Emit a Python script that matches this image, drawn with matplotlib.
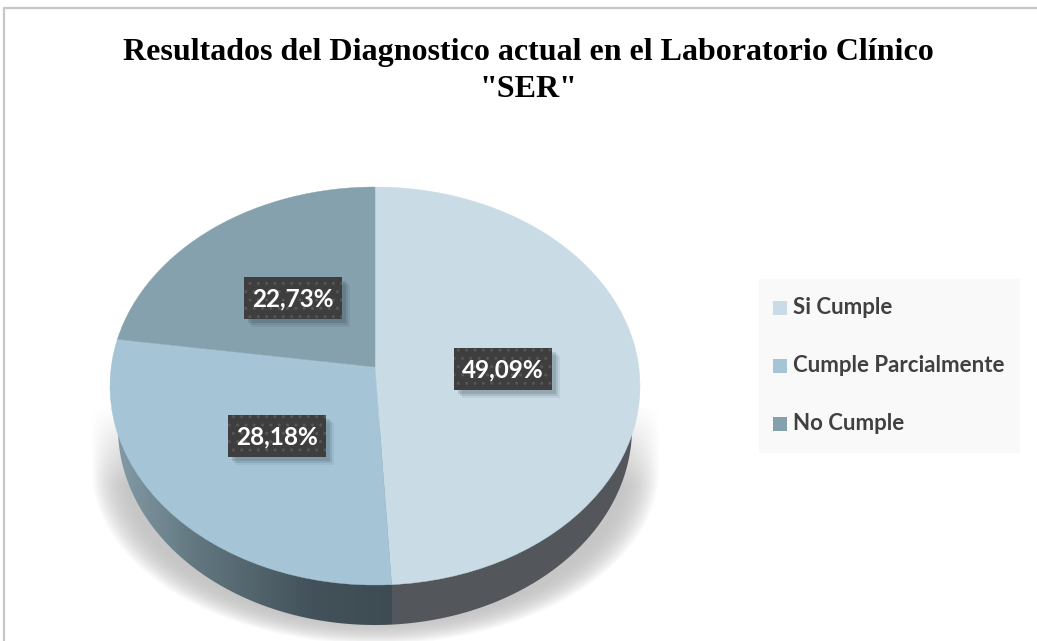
import numpy as np
import matplotlib
matplotlib.use('Agg')
import matplotlib.pyplot as plt
from matplotlib.patches import Rectangle, Polygon

W, H = 1037, 641

categorias = ['Si Cumple', 'Cumple Parcialmente', 'No Cumple']
valores = [49.09, 28.18, 22.73]
etiquetas = ['49,09%', '28,18%', '22,73%']
colores = ['#c9dbe5', '#a5c5d6', '#85a1ad']
titulo = 'Resultados del Diagnostico actual en el Laboratorio Clínico\n"SER"'

# posicion del centro de cada etiqueta, en pixeles de la imagen
pos_etiquetas = [(503, 369), (277, 436), (293, 298)]

# elipse superior del pie en pixeles
x0, x1, y0, y1 = 110, 640, 187, 585
# desplazamiento del centro por la perspectiva (unidades del radio)
persp = 0.0955


def perspectiva(pts):
    # proyectiva que conserva el circulo unidad y sube el centro
    x, y = pts[:, 0], pts[:, 1]
    d = 1 + persp * y
    return np.c_[x * np.sqrt(1 - persp ** 2) / d, (y + persp) / d]


fig = plt.figure(figsize=(W / 100, H / 100), dpi=100, facecolor='white')

# capa de fondo en pixeles: sombra, pared lateral y borde
bg = fig.add_axes([0, 0, 1, 1], zorder=0)
yy, xx = np.mgrid[0:H, 0:W]
dy = np.where(yy > 470, (yy - 470) / 174.0, 0)
dist = np.sqrt(((xx - 375) / 284.0) ** 2 + dy ** 2)
sombra = np.clip((1.0 - dist) / 0.14, 0, 1)
sombra = sombra * (2 - sombra)
sombra = sombra * np.clip((yy - 405) / 80.0, 0, 1)
rgba = np.zeros((H, W, 4))
rgba[..., :3] = 0.78
rgba[..., 3] = sombra
bg.imshow(rgba, extent=(0, W, H, 0), aspect='auto', zorder=1, interpolation='bilinear')

# pared: media elipse inferior, algo mas estrecha que la superior
ang = np.radians(np.linspace(180, 360, 240))
pared = np.c_[375 + 257 * np.cos(ang), 428 - 197 * np.sin(ang)]

# el corte de la pared sale del primer sector
a_corte = np.radians(90 - valores[0] * 3.6)
corte = perspectiva(np.array([[np.cos(a_corte), np.sin(a_corte)]]))[0]
x_corte = (x0 + x1) / 2 + corte[0] * (x1 - x0) / 2

columnas = np.arange(W)
grad = np.zeros((1, W, 3))
paradas_x = [126, 195, 311, x_corte]
paradas_c = np.array([[0x7f, 0x97, 0xa3], [0x62, 0x77, 0x80], [0x43, 0x52, 0x5a], [0x3e, 0x4b, 0x52]]) / 255
for k in range(3):
    grad[0, :, k] = np.interp(columnas, paradas_x, paradas_c[:, k])
grad[0, columnas >= x_corte, :] = np.array([0x53, 0x57, 0x5b]) / 255
im = bg.imshow(grad, extent=(0, W, H, 0), aspect='auto', zorder=2, interpolation='nearest')
clip = Polygon(pared, closed=True, transform=bg.transData, fc='none', ec='none')
bg.add_patch(clip)
im.set_clip_path(clip)

bg.plot([4, 4, W], [H, 8, 8], color='#c6c6c6', lw=1.6, zorder=3)
bg.set_xlim(0, W)
bg.set_ylim(H, 0)
bg.axis('off')

# pie aplastado, con los sectores pasados por la perspectiva
ax = fig.add_axes([x0 / W, (H - y1) / H, (x1 - x0) / W, (y1 - y0) / H], zorder=1)
ax.patch.set_alpha(0)
wedges, _ = ax.pie(valores, colors=colores, startangle=90, counterclock=False, radius=1.0,
                   wedgeprops={'linewidth': 0})
for w, col in zip(wedges, colores):
    path = w.get_path().transformed(w.get_patch_transform())
    poly = path.transformed(matplotlib.transforms.Affine2D().scale(400)).to_polygons()[0] / 400
    ax.add_patch(Polygon(perspectiva(poly), closed=True, fc=col, ec=col, lw=0.3, clip_on=False))
    w.remove()
ax.set_aspect('auto')
ax.set_xlim(-1, 1)
ax.set_ylim(-1, 1)

# capa superior: etiquetas, leyenda, titulo
top = fig.add_axes([0, 0, 1, 1], zorder=2)
top.set_xlim(0, W)
top.set_ylim(H, 0)
top.axis('off')

fig.text(528 / W, 1 - 71 / H, titulo, ha='center', va='center', family='Liberation Serif',
         weight='bold', size=23, color='black', linespacing=1.33)

bw, bh = 98, 42
for (cx, cy), txt in zip(pos_etiquetas, etiquetas):
    for d, a in [(8, 0.08), (6, 0.12), (4, 0.16)]:
        top.add_patch(Rectangle((cx - bw / 2 + d, cy - bh / 2 + d), bw, bh, fc='#2a3a44', ec='none', alpha=a))
    top.add_patch(Rectangle((cx - bw / 2, cy - bh / 2), bw, bh, fc='#3e3e3e', ec='none'))
    top.add_patch(Rectangle((cx - bw / 2, cy - bh / 2), bw, bh, fc='none', ec='#565656', lw=0, hatch='..'))
    top.text(cx, cy + 1, txt, ha='center', va='center', color='white', family='Lato', weight='bold', size=17.5)

# leyenda
top.add_patch(Rectangle((759, 279), 261, 174, fc='#f9f9f9', ec='none'))
for i, (cat, col) in enumerate(zip(categorias, colores)):
    yc = 308 + i * 58
    top.add_patch(Rectangle((773, yc - 7), 14, 14, fc=col, ec='none'))
    top.text(793, yc, cat, ha='left', va='center', color='#404040', family='Lato', weight='bold', size=16)

fig.savefig('out.png', dpi=100)
